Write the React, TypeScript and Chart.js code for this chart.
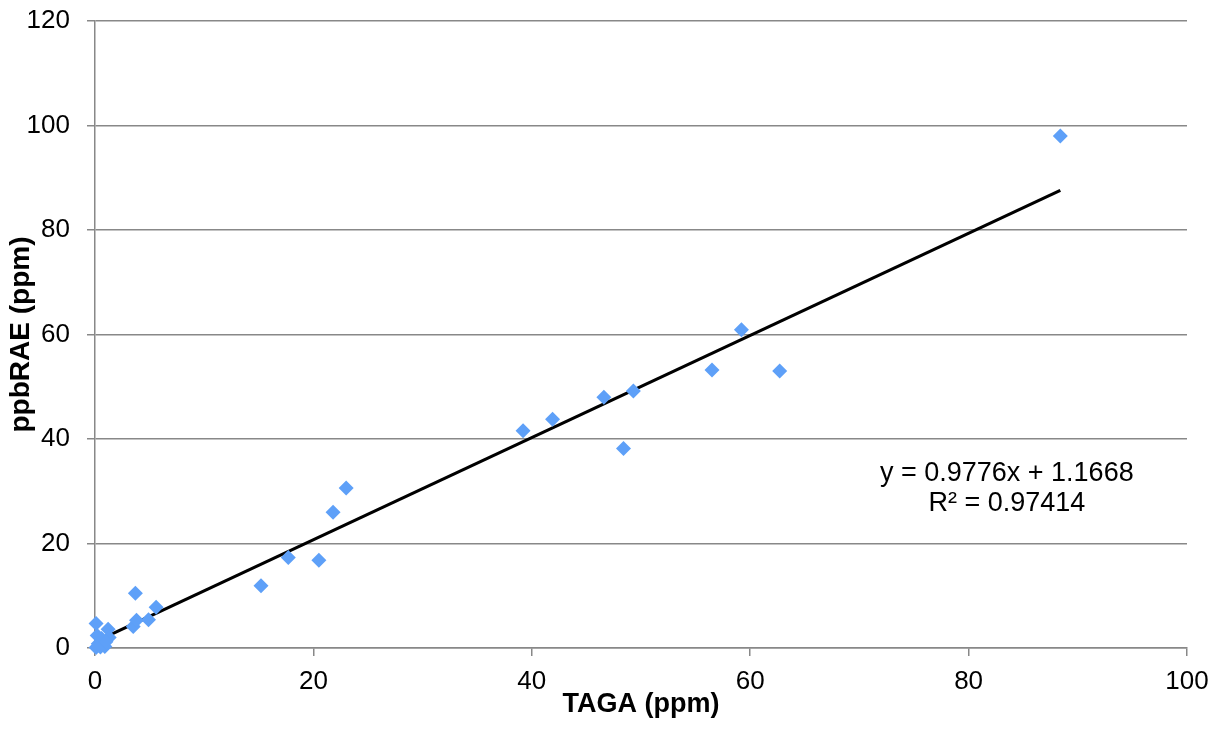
import React, { useEffect, useRef } from "react";
import { Chart, registerables } from "chart.js";

Chart.register(...registerables);

const tagaPpm: number[] = [0.1, 1.2, 0.2, 0.6, 1.3, 0.3, 0.9, 0.5, 1.0, 0.1, 3.5, 3.8, 4.9, 5.6, 3.7, 15.2, 17.7, 20.5, 21.8, 23.0, 39.2, 41.9, 46.6, 48.4, 49.3, 56.5, 59.2, 62.7, 88.4];
const ppbraePpm: number[] = [4.7, 3.6, 2.4, 1.8, 2.0, 0.8, 0.3, 0.2, 1.2, 0.1, 4.1, 5.3, 5.4, 7.8, 10.5, 11.9, 17.3, 16.8, 26.0, 30.6, 41.6, 43.8, 48.0, 38.2, 49.2, 53.2, 60.9, 53.0, 98.0];
const trendSlope = 0.9776;
const trendIntercept = 1.1668;
const equationLines: string[] = ["y = 0.9776x + 1.1668", "R² = 0.97414"];
const equationAnchor = { x: 83.5, y: 33.4 };
const xTitle = "TAGA (ppm)";
const yTitle = "ppbRAE (ppm)";
const FONT = "'Liberation Sans', Arial, Helvetica, sans-serif";

export default function App() {
  const ref = useRef<HTMLCanvasElement>(null);
  useEffect(() => {
    const points = tagaPpm.map((x, i) => ({ x, y: ppbraePpm[i] }));
    const xMin = Math.min(...tagaPpm);
    const xMax = Math.max(...tagaPpm);
    const trend = [
      { x: xMin, y: trendSlope * xMin + trendIntercept },
      { x: xMax, y: trendSlope * xMax + trendIntercept },
    ];
    const eqPlugin = {
      id: "eq",
      afterDatasetsDraw(chart: any) {
        const { ctx, scales } = chart;
        const cx = scales.x.getPixelForValue(equationAnchor.x);
        const cy = scales.y.getPixelForValue(equationAnchor.y);
        ctx.save();
        ctx.fillStyle = "#000";
        ctx.font = `27px ${FONT}`;
        ctx.textAlign = "center";
        ctx.textBaseline = "middle";
        equationLines.forEach((t, i) => ctx.fillText(t, cx, cy + i * 30));
        ctx.restore();
      },
    };
    const chart = new Chart(ref.current!, {
      type: "scatter",
      data: {
        datasets: [
          {
            data: points,
            pointStyle: "rectRot",
            pointRadius: 7.5,
            pointHoverRadius: 7.5,
            backgroundColor: "#5ea0f8",
            borderColor: "#5ea0f8",
            borderWidth: 0,
            clip: false,
          } as any,
          {
            data: trend,
            showLine: true,
            pointRadius: 0,
            borderColor: "#000",
            borderWidth: 3.2,
            clip: false,
          } as any,
        ],
      },
      options: {
        animation: false,
        responsive: false,
        maintainAspectRatio: false,
        layout: { padding: { top: 21, right: 27, left: 0, bottom: 0 } },
        plugins: { legend: { display: false }, tooltip: { enabled: false } },
        scales: {
          x: {
            type: "linear",
            min: 0,
            max: 100,
            ticks: { stepSize: 20, color: "#000", font: { size: 26, family: FONT }, padding: 10 },
            grid: { drawOnChartArea: false, drawTicks: true, tickLength: 8, color: "#888", lineWidth: 1.5 },
            border: { color: "#888", width: 1.5 },
            title: { display: true, text: xTitle, color: "#000", font: { size: 27, weight: "bold", family: FONT }, padding: { top: 0, bottom: 10 } },
            afterFit: (s: any) => { s.height = 83; s.paddingLeft = 0; s.paddingRight = 0; },
          },
          y: {
            type: "linear",
            min: 0,
            max: 120,
            ticks: { stepSize: 20, color: "#000", font: { size: 26, family: FONT }, padding: 17 },
            grid: { color: "#888", lineWidth: 1.5, tickLength: 8 },
            border: { color: "#888", width: 1.5 },
            title: { display: true, text: yTitle, color: "#000", font: { size: 28, weight: "bold", family: FONT }, padding: { top: 4, bottom: 0 } },
            afterFit: (s: any) => { s.width = 95; s.paddingTop = 0; s.paddingBottom = 0; },
          },
        },
      },
      plugins: [eqPlugin],
    });
    return () => chart.destroy();
  }, []);
  return (
    <div style={{ position: "fixed", left: 0, top: 0, width: 1214, height: 731, background: "#fff" }}>
      <canvas ref={ref} width={1214} height={731} style={{ width: 1214, height: 731 }} />
    </div>
  );
}
